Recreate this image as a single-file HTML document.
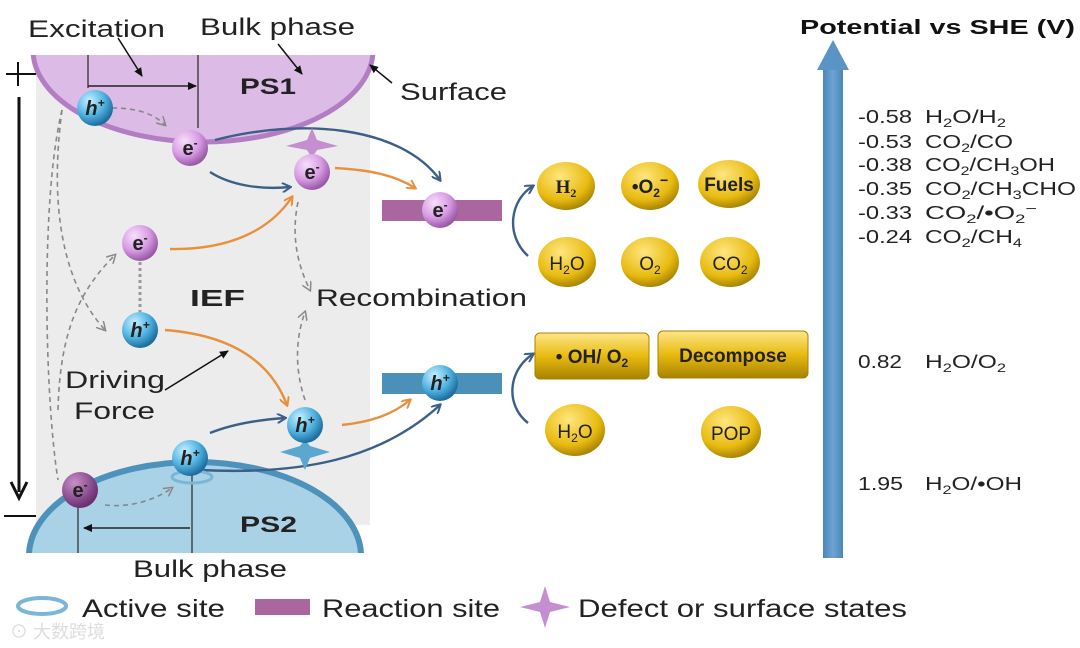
<!DOCTYPE html>
<html><head><meta charset="utf-8"><style>
html,body{margin:0;padding:0;background:#fff;}
svg{display:block;font-family:"Liberation Sans",Arial,sans-serif;}
</style></head><body>
<svg width="1080" height="648" viewBox="0 0 1080 648" xmlns="http://www.w3.org/2000/svg">
<defs>
<radialGradient id="gp" cx="0.35" cy="0.3" r="0.7"><stop offset="0" stop-color="#f6e0fb"/><stop offset="0.6" stop-color="#d79be3"/><stop offset="1" stop-color="#9a5aa8"/></radialGradient>
<radialGradient id="gd" cx="0.35" cy="0.3" r="0.7"><stop offset="0" stop-color="#c890c8"/><stop offset="1" stop-color="#6a2e72"/></radialGradient>
<radialGradient id="gb" cx="0.35" cy="0.3" r="0.7"><stop offset="0" stop-color="#c8f0ff"/><stop offset="0.6" stop-color="#4fb2e0"/><stop offset="1" stop-color="#1e6ea0"/></radialGradient>
<radialGradient id="gy" cx="0.4" cy="0.3" r="0.75"><stop offset="0" stop-color="#ffe680"/><stop offset="0.65" stop-color="#e8bb10"/><stop offset="1" stop-color="#9c7a00"/></radialGradient>
<linearGradient id="gr" x1="0" y1="0" x2="0" y2="1"><stop offset="0" stop-color="#fde68a"/><stop offset="0.5" stop-color="#e8bb10"/><stop offset="1" stop-color="#a88200"/></linearGradient>
<linearGradient id="ga" x1="0" y1="0" x2="1" y2="0"><stop offset="0" stop-color="#4a86bb"/><stop offset="0.5" stop-color="#6da3d2"/><stop offset="1" stop-color="#4a86bb"/></linearGradient>
<marker id="mb" markerWidth="10" markerHeight="10" refX="8" refY="5" orient="auto" markerUnits="userSpaceOnUse"><path d="M0,0 L9,5 L0,10" fill="none" stroke="#3b5f86" stroke-width="2"/></marker>
<marker id="mo" markerWidth="10" markerHeight="10" refX="8" refY="5" orient="auto" markerUnits="userSpaceOnUse"><path d="M0,0 L9,5 L0,10" fill="none" stroke="#e8903c" stroke-width="2"/></marker>
<marker id="mg" markerWidth="10" markerHeight="10" refX="8" refY="5" orient="auto" markerUnits="userSpaceOnUse"><path d="M0,0 L9,5 L0,10" fill="none" stroke="#888" stroke-width="1.5"/></marker>
<marker id="mk" markerWidth="10" markerHeight="10" refX="8" refY="5" orient="auto" markerUnits="userSpaceOnUse"><path d="M0,1 L9,5 L0,9 Z" fill="#111"/></marker>
<clipPath id="c1"><rect x="0" y="55" width="400" height="200"/></clipPath>
<clipPath id="c2"><rect x="0" y="400" width="400" height="153"/></clipPath>
</defs>
<rect x="36" y="55" width="334" height="470" fill="#ececec"/>
<ellipse cx="203" cy="50" rx="170" ry="92" fill="#dcbbe7" stroke="#b37dc3" stroke-width="5" clip-path="url(#c1)"/>
<line x1="88" y1="55" x2="88" y2="88" stroke="#333" stroke-width="1.3"/>
<line x1="198" y1="55" x2="198" y2="128" stroke="#333" stroke-width="1.3"/>
<line x1="88" y1="86" x2="196" y2="86" stroke="#222" stroke-width="1.5" marker-end="url(#mk)"/>
<text x="240" y="94" font-size="22" font-weight="bold" fill="#222" textLength="56" lengthAdjust="spacingAndGlyphs">PS1</text>
<ellipse cx="195" cy="556" rx="166" ry="94" fill="#a9d2e6" stroke="#4d92bb" stroke-width="6" clip-path="url(#c2)"/>
<line x1="78" y1="495" x2="78" y2="553" stroke="#333" stroke-width="1.3"/>
<line x1="192" y1="462" x2="192" y2="553" stroke="#333" stroke-width="1.3"/>
<line x1="190" y1="528" x2="84" y2="528" stroke="#222" stroke-width="1.5" marker-end="url(#mk)"/>
<text x="240" y="532" font-size="22" font-weight="bold" fill="#222" textLength="57" lengthAdjust="spacingAndGlyphs">PS2</text>
<g font-size="24" fill="#222">
<text x="28" y="37" textLength="137" lengthAdjust="spacingAndGlyphs">Excitation</text>
<text x="200" y="35" textLength="155" lengthAdjust="spacingAndGlyphs">Bulk phase</text>
<text x="400" y="100" textLength="107" lengthAdjust="spacingAndGlyphs">Surface</text>
<text x="316" y="306" textLength="211" lengthAdjust="spacingAndGlyphs">Recombination</text>
<text x="65" y="388" textLength="100" lengthAdjust="spacingAndGlyphs">Driving</text>
<text x="74" y="419" textLength="81" lengthAdjust="spacingAndGlyphs">Force</text>
<text x="133" y="577" textLength="154" lengthAdjust="spacingAndGlyphs">Bulk phase</text>
</g>
<text x="190" y="306" font-size="23" font-weight="bold" fill="#222" textLength="55" lengthAdjust="spacingAndGlyphs">IEF</text>
<line x1="118" y1="38" x2="142" y2="76" stroke="#111" stroke-width="1.5" marker-end="url(#mk)"/>
<line x1="278" y1="44" x2="302" y2="74" stroke="#111" stroke-width="1.5" marker-end="url(#mk)"/>
<line x1="392" y1="83" x2="370" y2="65" stroke="#111" stroke-width="1.5" marker-end="url(#mk)"/>
<line x1="165" y1="390" x2="228" y2="351" stroke="#111" stroke-width="1.5" marker-end="url(#mk)"/>
<line x1="6" y1="74" x2="36" y2="74" stroke="#111" stroke-width="2"/>
<line x1="18" y1="62" x2="18" y2="86" stroke="#111" stroke-width="2"/>
<line x1="4" y1="516" x2="36" y2="516" stroke="#111" stroke-width="2"/>
<line x1="19" y1="97" x2="19" y2="492" stroke="#111" stroke-width="3"/>
<path d="M11,482 L19,498 L27,482" fill="none" stroke="#111" stroke-width="3"/>
<g fill="none" stroke="#888" stroke-width="1.6" stroke-dasharray="5,4">
<path d="M112,108 C140,108 155,115 165,125" marker-end="url(#mg)"/>
<path d="M62,110 C40,200 45,400 58,480"/>
<path d="M62,110 C50,200 60,280 105,330" marker-end="url(#mg)"/>
<path d="M58,410 C60,330 80,290 115,255" marker-end="url(#mg)"/>
<path d="M298,202 C290,240 300,270 310,290" marker-end="url(#mg)"/>
<path d="M305,400 C295,370 295,340 305,312" marker-end="url(#mg)"/>
<path d="M105,505 C130,508 155,500 172,488" marker-end="url(#mg)"/>
</g>
<line x1="140" y1="262" x2="140" y2="312" stroke="#999" stroke-width="3" stroke-dasharray="3,3"/>
<g fill="none" stroke="#3b5f86" stroke-width="2.4">
<path d="M215,140 C300,118 400,125 440,180" marker-end="url(#mb)"/>
<path d="M210,172 C230,185 260,190 290,187" marker-end="url(#mb)"/>
<path d="M210,433 C230,425 255,420 285,418" marker-end="url(#mb)"/>
<path d="M200,470 C300,475 380,460 440,405" marker-end="url(#mb)"/>
<path d="M528,256 C505,235 510,200 533,186" marker-end="url(#mb)"/>
<path d="M528,423 C505,405 508,370 533,354" marker-end="url(#mb)"/>
</g>
<g fill="none" stroke="#e8903c" stroke-width="2.4">
<path d="M335,168 C370,170 395,175 415,188" marker-end="url(#mo)"/>
<path d="M170,249 C230,250 270,230 292,197" marker-end="url(#mo)"/>
<path d="M165,330 C230,335 270,360 287,405" marker-end="url(#mo)"/>
<path d="M342,425 C370,422 392,415 410,400" marker-end="url(#mo)"/>
</g>
<rect x="382" y="200" width="120" height="21" fill="#a9669f"/>
<rect x="382" y="373" width="120" height="21" fill="#4b90b9"/>
<path d="M312,128 L317,140 L338,146 L317,150 L312,158 L307,150 L286,146 L307,140 Z" fill="#c58ed0"/>
<path d="M305,470 L310,458 L330,452 L310,446 L305,440 L300,446 L280,452 L300,458 Z" fill="#5aa8d0"/>
<ellipse cx="192" cy="477" rx="20" ry="6" fill="none" stroke="#7ab6d6" stroke-width="3"/>
<g font-weight="bold" font-size="20" text-anchor="middle" fill="#222">
<circle cx="95" cy="108" r="18" fill="url(#gb)"/><text x="95" y="115" font-style="italic">h<tspan font-size="12" dy="-8">+</tspan></text>
<circle cx="190" cy="148" r="18" fill="url(#gp)"/><text x="190" y="155">e<tspan font-size="12" dy="-8">-</tspan></text>
<circle cx="312" cy="172" r="18" fill="url(#gp)"/><text x="312" y="179">e<tspan font-size="12" dy="-8">-</tspan></text>
<circle cx="440" cy="210" r="18" fill="url(#gp)"/><text x="440" y="217">e<tspan font-size="12" dy="-8">-</tspan></text>
<circle cx="140" cy="243" r="18" fill="url(#gp)"/><text x="140" y="250">e<tspan font-size="12" dy="-8">-</tspan></text>
<circle cx="140" cy="330" r="18" fill="url(#gb)"/><text x="140" y="337" font-style="italic">h<tspan font-size="12" dy="-8">+</tspan></text>
<circle cx="305" cy="425" r="18" fill="url(#gb)"/><text x="305" y="432" font-style="italic">h<tspan font-size="12" dy="-8">+</tspan></text>
<circle cx="190" cy="458" r="18" fill="url(#gb)"/><text x="190" y="465" font-style="italic">h<tspan font-size="12" dy="-8">+</tspan></text>
<circle cx="80" cy="490" r="18" fill="url(#gd)"/><text x="80" y="497">e<tspan font-size="12" dy="-8">-</tspan></text>
<circle cx="440" cy="383" r="18" fill="url(#gb)"/><text x="440" y="390" font-style="italic">h<tspan font-size="12" dy="-8">+</tspan></text>
</g>
<g font-size="19" text-anchor="middle" fill="#222">
<ellipse cx="566" cy="186" rx="29" ry="24" fill="url(#gy)"/><text x="566" y="193" font-weight="bold" font-family="Liberation Serif">H<tspan font-size="12" dy="4">2</tspan></text>
<ellipse cx="650" cy="186" rx="29" ry="24" fill="url(#gy)"/><text x="650" y="193" font-weight="bold">•O<tspan font-size="12" dy="4">2</tspan><tspan font-size="14" dy="-12">−</tspan></text>
<ellipse cx="729" cy="184" rx="31" ry="24" fill="url(#gy)"/><text x="729" y="191" font-weight="bold">Fuels</text>
<ellipse cx="567" cy="262" rx="29" ry="25" fill="url(#gy)"/><text x="567" y="270">H<tspan font-size="12" dy="4">2</tspan><tspan dy="-4">O</tspan></text>
<ellipse cx="650" cy="262" rx="29" ry="25" fill="url(#gy)"/><text x="650" y="270">O<tspan font-size="12" dy="4">2</tspan></text>
<ellipse cx="730" cy="262" rx="30" ry="25" fill="url(#gy)"/><text x="730" y="270">CO<tspan font-size="12" dy="4">2</tspan></text>
<rect x="535" y="333" width="114" height="46" rx="5" fill="url(#gr)" stroke="#a88200"/><text x="592" y="363" font-weight="bold">• OH/ O<tspan font-size="12" dy="4">2</tspan></text>
<rect x="658" y="331" width="150" height="47" rx="5" fill="url(#gr)" stroke="#a88200"/><text x="733" y="362" font-weight="bold">Decompose</text>
<ellipse cx="575" cy="430" rx="30" ry="26" fill="url(#gy)"/><text x="575" y="438">H<tspan font-size="12" dy="4">2</tspan><tspan dy="-4">O</tspan></text>
<ellipse cx="731" cy="432" rx="30" ry="26" fill="url(#gy)"/><text x="731" y="440">POP</text>
</g>
<rect x="823" y="68" width="20" height="490" fill="url(#ga)"/>
<path d="M817,70 L833,40 L849,70 Z" fill="#5a93c6"/>
<text x="800" y="34" font-size="20" font-weight="bold" fill="#111" textLength="275" lengthAdjust="spacingAndGlyphs">Potential  vs SHE (V)</text>
<g font-size="18" fill="#222">
<text x="858" y="123" textLength="54" lengthAdjust="spacingAndGlyphs">-0.58</text>
<text x="858" y="148" textLength="54" lengthAdjust="spacingAndGlyphs">-0.53</text>
<text x="858" y="171" textLength="54" lengthAdjust="spacingAndGlyphs">-0.38</text>
<text x="858" y="195" textLength="54" lengthAdjust="spacingAndGlyphs">-0.35</text>
<text x="858" y="219" textLength="54" lengthAdjust="spacingAndGlyphs">-0.33</text>
<text x="858" y="243" textLength="54" lengthAdjust="spacingAndGlyphs">-0.24</text>
<text x="858" y="368" textLength="44" lengthAdjust="spacingAndGlyphs">0.82</text>
<text x="858" y="490" textLength="45" lengthAdjust="spacingAndGlyphs">1.95</text>
<text x="925" y="123" textLength="81" lengthAdjust="spacingAndGlyphs">H<tspan font-size="12" dy="4">2</tspan><tspan dy="-4">O/H</tspan><tspan font-size="12" dy="4">2</tspan></text>
<text x="925" y="148" textLength="88" lengthAdjust="spacingAndGlyphs">CO<tspan font-size="12" dy="4">2</tspan><tspan dy="-4">/CO</tspan></text>
<text x="925" y="171" textLength="130" lengthAdjust="spacingAndGlyphs">CO<tspan font-size="12" dy="4">2</tspan><tspan dy="-4">/CH</tspan><tspan font-size="12" dy="4">3</tspan><tspan dy="-4">OH</tspan></text>
<text x="925" y="195" textLength="151" lengthAdjust="spacingAndGlyphs">CO<tspan font-size="12" dy="4">2</tspan><tspan dy="-4">/CH</tspan><tspan font-size="12" dy="4">3</tspan><tspan dy="-4">CHO</tspan></text>
<text x="925" y="219" textLength="112" lengthAdjust="spacingAndGlyphs">CO<tspan font-size="12" dy="4">2</tspan><tspan dy="-4">/•O</tspan><tspan font-size="12" dy="4">2</tspan><tspan font-size="13" dy="-10">−</tspan></text>
<text x="925" y="243" textLength="97" lengthAdjust="spacingAndGlyphs">CO<tspan font-size="12" dy="4">2</tspan><tspan dy="-4">/CH</tspan><tspan font-size="12" dy="4">4</tspan></text>
<text x="925" y="368" textLength="81" lengthAdjust="spacingAndGlyphs">H<tspan font-size="12" dy="4">2</tspan><tspan dy="-4">O/O</tspan><tspan font-size="12" dy="4">2</tspan></text>
<text x="925" y="490" textLength="97" lengthAdjust="spacingAndGlyphs">H<tspan font-size="12" dy="4">2</tspan><tspan dy="-4">O/•OH</tspan></text>
</g>
<ellipse cx="42" cy="606" rx="24" ry="8" fill="none" stroke="#7ab6d6" stroke-width="4"/>
<g font-size="25" fill="#222">
<text x="82" y="617" textLength="143" lengthAdjust="spacingAndGlyphs">Active site</text>
<text x="322" y="617" textLength="178" lengthAdjust="spacingAndGlyphs">Reaction site</text>
<text x="578" y="617" textLength="329" lengthAdjust="spacingAndGlyphs">Defect or surface states</text>
</g>
<rect x="255" y="599" width="55" height="16" fill="#a9669f"/>
<path d="M545,586 L550,602 L570,607 L550,612 L545,628 L540,612 L520,607 L540,602 Z" fill="#c58ed0"/>
<text x="10" y="638" font-size="18" fill="#ddd" font-family="'Liberation Sans','Noto Sans CJK SC',sans-serif">⊙ 大数跨境</text>
</svg>
</body></html>
